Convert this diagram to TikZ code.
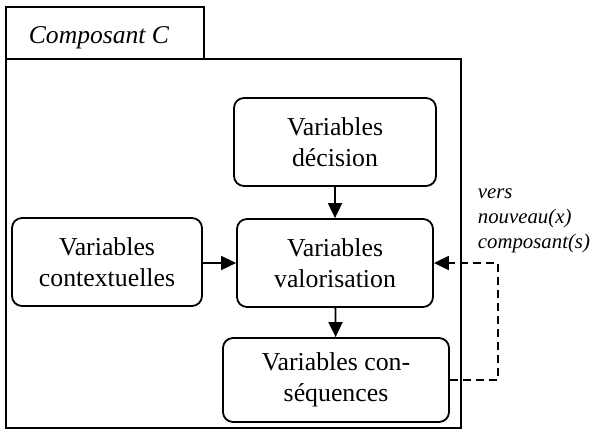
\documentclass[tikz,border=0pt]{standalone}
\usepackage{fontspec}
\setmainfont{Liberation Serif}
\usetikzlibrary{positioning}
\usetikzlibrary{arrows.meta}

\tikzset{
  varbox/.style={rounded corners=5pt, rectangle, draw, align=center, inner sep=0pt,
    font=\fontsize{12.9}{15.5}\selectfont},
  fleche/.style={-{Triangle[length=7.5pt,width=7pt]}},
}

\begin{document}
\begin{tikzpicture}[x=0.5pt, y=-0.5pt, line width=0.9pt]
  \useasboundingbox (0,0) rectangle (592,434);

  % le composant et son onglet
  \draw (6,7) rectangle (204,59);
  \node[anchor=base west, inner sep=0pt, font=\itshape\fontsize{12.8}{15}\selectfont] (titre) at (28,43) {Composant C};
  \draw (6,59) rectangle (461,428);

  \node[varbox, minimum width=101pt, minimum height=44pt] (decision) at (335,142) {Variables\\décision};
  \node[varbox, minimum width=98pt, minimum height=44pt] (valorisation) at (335,263) {Variables\\valorisation};
  \node[varbox, minimum width=95pt, minimum height=44pt] (contexte) at (107,262) {Variables\\contextuelles};
  \node[varbox, minimum width=113pt, minimum height=42pt] (consequences) at (336,380) {Variables con-\\séquences};

  \node[anchor=base west, inner sep=0pt, align=left, font=\itshape\fontsize{10.4}{12.5}\selectfont] (vers) at (477,248) {vers\\nouveau(x)\\composant(s)};

  \draw[fleche] (decision) -- (valorisation);
  \draw[fleche] (contexte.east |- valorisation) -- (valorisation);
  \draw[fleche] (valorisation) -- (consequences);
  \draw[fleche, dash pattern=on 4pt off 2.5pt] (consequences.east) -- ++(48,0) |- (valorisation.east);
\end{tikzpicture}
\end{document}
